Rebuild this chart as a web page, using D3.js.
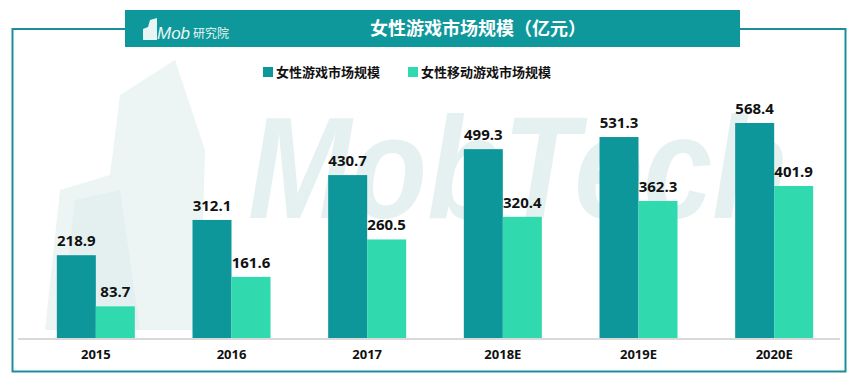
<!DOCTYPE html>
<html><head><meta charset="utf-8">
<script src="https://cdn.jsdelivr.net/npm/d3@7"></script>
<style>body{margin:0;background:#fff;}svg{display:block;font-family:"Noto Sans CJK SC","Open Sans",sans-serif;}</style>
</head><body>
<svg id="c" width="858" height="384"></svg>
<script>
const categories = ["2015","2016","2017","2018E","2019E","2020E"];
const seriesNames = ["女性游戏市场规模","女性移动游戏市场规模"];
const totalGame = [218.9,312.1,430.7,499.3,531.3,568.4];
const mobileGame = [83.7,161.6,260.5,320.4,362.3,401.9];
const colors = ["#0e979b","#30d9ae"];

const svg = d3.select("#c");
const dark = "#0f989c";

// watermark
const wm = svg.append("g");
wm.append("path").attr("d","M45,330 L60,190 L110,175 L120,95 L175,60 L205,150 L200,330 Z").attr("fill","#ecf5f4");
wm.append("path").attr("d","M60,330 L75,200 L120,190 L140,330 Z").attr("fill","#e3f0ef");
wm.append("text").attr("x",248).attr("y",218).attr("font-size",145).attr("font-weight","bold")
  .attr("font-style","italic").attr("font-family","Liberation Sans, Arial, sans-serif")
  .attr("textLength",540).attr("lengthAdjust","spacingAndGlyphs")
  .attr("fill","#e5f1f0").text("MobTech");

// frame
svg.append("path").attr("d","M125,29 L12.5,29 L12.5,371.5 L845.5,371.5 L845.5,29 L740,29")
  .attr("fill","none").attr("stroke","#1a8f9a").attr("stroke-width",2);

// title bar
svg.append("rect").attr("x",125).attr("y",10).attr("width",615).attr("height",37).attr("fill",dark);
svg.append("text").attr("x",478).attr("y",35).attr("text-anchor","middle").attr("fill","#fff")
  .attr("font-size",18).attr("font-weight","bold").text("女性游戏市场规模（亿元）");
// logo
const lg = svg.append("g");
lg.append("path").attr("d","M143,40 L143,29 L148,27 L150,20 L157,18 L157,40 Z").attr("fill","#e8f5f4");
lg.append("text").attr("x",157).attr("y",39).attr("fill","#e8f5f4").attr("font-size",17)
  .attr("font-style","italic").attr("font-family","Liberation Sans, Arial, sans-serif").text("Mob");
lg.append("text").attr("x",193).attr("y",38).attr("fill","#e8f5f4").attr("font-size",12).text("研究院");

// scales
const baseY = 338;
const x0 = d3.scaleBand().domain(categories).range([28,842]).padding(0);
const x1 = d3.scaleBand().domain([0,1]).range([x0.bandwidth()/2-39, x0.bandwidth()/2+39]).padding(0);
const y = d3.scaleLinear().domain([0,568.4]).range([baseY,123]);

// baseline
svg.append("line").attr("x1",18).attr("x2",840).attr("y1",baseY+1).attr("y2",baseY+1)
  .attr("stroke","#d9d9d9").attr("stroke-width",2);

const data = categories.map((c,i)=>({c, vals:[totalGame[i],mobileGame[i]]}));
const g = svg.append("g").selectAll("g").data(data).join("g")
  .attr("transform",d=>`translate(${x0(d.c)},0)`);
g.selectAll("rect").data(d=>d.vals.map((v,k)=>({v,k}))).join("rect")
  .attr("x",d=>x1(d.k)).attr("width",x1.bandwidth())
  .attr("y",d=>y(d.v)).attr("height",d=>baseY-y(d.v)).attr("fill",d=>colors[d.k]);
g.selectAll("text.v").data(d=>d.vals.map((v,k)=>({v,k}))).join("text").attr("class","v")
  .attr("x",d=>x1(d.k)+x1.bandwidth()/2).attr("y",d=>y(d.v)-9).attr("text-anchor","middle")
  .attr("font-size",15).attr("font-weight","bold").attr("fill","#111")
  .attr("font-family","Open Sans, sans-serif").text(d=>d.v.toFixed(1));

// x axis
const ax = svg.append("g").attr("transform",`translate(0,${baseY})`).call(d3.axisBottom(x0).tickSize(0).tickPadding(12));
ax.select(".domain").remove();
ax.selectAll("text").attr("font-size",13).attr("font-weight","bold").attr("fill","#111")
  .attr("font-family","Open Sans, sans-serif");

// legend
const lx = [263,408];
seriesNames.forEach((n,i)=>{
  svg.append("rect").attr("x",lx[i]).attr("y",67).attr("width",10).attr("height",10).attr("fill",colors[i]);
  svg.append("text").attr("x",lx[i]+13).attr("y",77).attr("font-size",13).attr("font-weight","bold")
    .attr("fill","#111").text(n);
});
</script>
</body></html>
